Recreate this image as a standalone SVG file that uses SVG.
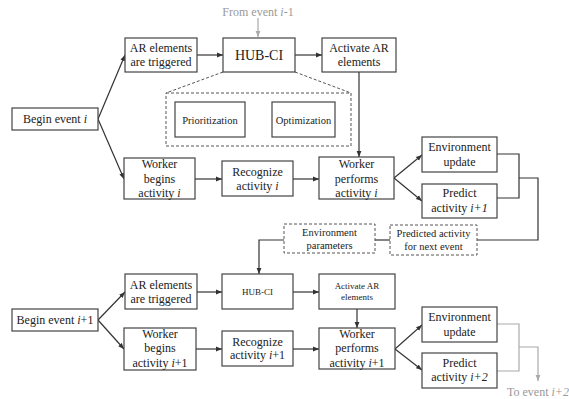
<svg xmlns="http://www.w3.org/2000/svg" width="569" height="399" viewBox="0 0 569 399">
<style>
.b{fill:#fff;stroke:#444;stroke-width:1.2}
.d{fill:#fff;stroke:#555;stroke-width:1;stroke-dasharray:3,2}
.t{font-family:"Liberation Serif","Times New Roman",serif;font-size:12px;fill:#222;text-anchor:middle}
.s{font-size:10.5px}
.x{font-size:9px}
.h{font-size:14px}
.g{fill:#999}
.c{fill:none;stroke:#333;stroke-width:1.2}
.cg{fill:none;stroke:#aaa;stroke-width:1.2}
.dl{fill:none;stroke:#555;stroke-width:1;stroke-dasharray:3,2}
</style>
<defs>
<marker id="a" viewBox="0 0 10 10" refX="10" refY="5" markerWidth="5" markerHeight="5" orient="auto"><path d="M0,1 L10,5 L0,9 z" fill="#333"/></marker>
<marker id="ag" viewBox="0 0 10 10" refX="10" refY="5" markerWidth="5" markerHeight="5" orient="auto"><path d="M0,1 L10,5 L0,9 z" fill="#aaa"/></marker>
</defs>
<g id="connectors">
<path class="cg" d="M258,18 V37" marker-end="url(#ag)"/>
<path class="c" d="M98,119 L125,55" marker-end="url(#a)"/>
<path class="c" d="M98,119 L124,179" marker-end="url(#a)"/>
<path class="c" d="M197,55 H223" marker-end="url(#a)"/>
<path class="c" d="M295,55 H322" marker-end="url(#a)"/>
<path class="dl" d="M223,72 L166,93 M295,72 L351,93"/>
<path class="c" d="M245,120 H272" marker-end="url(#a)"/>
<path class="c" d="M359,72 V157" marker-end="url(#a)"/>
<path class="c" d="M195,179 H222" marker-end="url(#a)"/>
<path class="c" d="M293,179 H319" marker-end="url(#a)"/>
<path class="c" d="M394,178 L422,155" marker-end="url(#a)"/>
<path class="c" d="M394,178 L422,201" marker-end="url(#a)"/>
<path class="c" d="M497,154 H519 V198 H497 M519,178 H538 V240 H477"/>
<path class="c" d="M390,240 H375"/>
<path class="c" d="M284,240 H259 V274" marker-end="url(#a)"/>
<path class="c" d="M98,320 L125,292" marker-end="url(#a)"/>
<path class="c" d="M98,320 L124,349" marker-end="url(#a)"/>
<path class="c" d="M197,292 H222" marker-end="url(#a)"/>
<path class="c" d="M293,292 H319" marker-end="url(#a)"/>
<path class="c" d="M357,309 V328" marker-end="url(#a)"/>
<path class="c" d="M196,349 H222" marker-end="url(#a)"/>
<path class="c" d="M293,349 H319" marker-end="url(#a)"/>
<path class="c" d="M395,349 L422,325" marker-end="url(#a)"/>
<path class="c" d="M395,349 L422,370" marker-end="url(#a)"/>
<path class="cg" d="M497,324 H519 V371 H497 M519,347 H538 V381" marker-end="url(#ag)"/>
</g>
<g id="from-event"><text class="t g" x="258" y="16">From event <tspan font-style="italic">i</tspan>-1</text></g>
<g id="begin-i"><rect class="b" x="12" y="108" width="86" height="22"/><text class="t" x="55" y="123">Begin event <tspan font-style="italic">i</tspan></text></g>
<g id="ar-i"><rect class="b" x="125" y="38" width="72" height="34"/><text class="t" x="161" y="52">AR elements</text><text class="t" x="161" y="66">are triggered</text></g>
<g id="hub-i"><rect class="b" x="223" y="38" width="72" height="34"/><text class="t h" x="259" y="60">HUB-CI</text></g>
<g id="activate-i"><rect class="b" x="322" y="38" width="74" height="34"/><text class="t" x="359" y="52">Activate AR</text><text class="t" x="359" y="66">elements</text></g>
<g id="hub-detail"><rect class="d" x="166" y="93" width="185" height="53"/></g>
<g id="prioritization"><rect class="b" x="175" y="102" width="70" height="35"/><text class="t s" x="210" y="124">Prioritization</text></g>
<g id="optimization"><rect class="b" x="272" y="102" width="63" height="35"/><text class="t s" x="303.500" y="124">Optimization</text></g>
<g id="worker-begins-i"><rect class="b" x="124" y="158" width="71" height="41"/><text class="t" x="159.500" y="168">Worker</text><text class="t" x="159.500" y="183">begins</text><text class="t" x="159.500" y="197">activity <tspan font-style="italic">i</tspan></text></g>
<g id="recognize-i"><rect class="b" x="222" y="161" width="71" height="35"/><text class="t" x="257.500" y="176">Recognize</text><text class="t" x="257.500" y="190">activity <tspan font-style="italic">i</tspan></text></g>
<g id="worker-performs-i"><rect class="b" x="319" y="157" width="75" height="42"/><text class="t" x="356.500" y="168">Worker</text><text class="t" x="356.500" y="183">performs</text><text class="t" x="356.500" y="197">activity <tspan font-style="italic">i</tspan></text></g>
<g id="env-update-i"><rect class="b" x="422" y="137" width="75" height="35"/><text class="t" x="459.500" y="151">Environment</text><text class="t" x="459.500" y="166">update</text></g>
<g id="predict-i1"><rect class="b" x="422" y="184" width="75" height="34"/><text class="t" x="459.500" y="197">Predict</text><text class="t" x="459.500" y="212">activity <tspan font-style="italic">i+1</tspan></text></g>
<g id="env-params"><rect class="d" x="284" y="224" width="91" height="29"/><text class="t s" x="329.500" y="236">Environment</text><text class="t s" x="329.500" y="249">parameters</text></g>
<g id="predicted-activity"><rect class="d" x="390" y="225" width="87" height="30"/><text class="t s" x="433.500" y="237">Predicted activity</text><text class="t s" x="433.500" y="250">for next event</text></g>
<g id="begin-i1"><rect class="b" x="12" y="309" width="86" height="22"/><text class="t" x="55" y="324">Begin event <tspan font-style="italic">i</tspan>+1</text></g>
<g id="ar-i1"><rect class="b" x="125" y="274" width="72" height="35"/><text class="t" x="161" y="289">AR elements</text><text class="t" x="161" y="303">are triggered</text></g>
<g id="hub-i1"><rect class="b" x="222" y="274" width="71" height="35"/><text class="t x" x="257.500" y="295">HUB-CI</text></g>
<g id="activate-i1"><rect class="b" x="319" y="274" width="76" height="35"/><text class="t x" x="357" y="289">Activate AR</text><text class="t x" x="357" y="300">elements</text></g>
<g id="worker-begins-i1"><rect class="b" x="124" y="328" width="72" height="42"/><text class="t" x="160" y="338">Worker</text><text class="t" x="160" y="352">begins</text><text class="t" x="160" y="367">activity <tspan font-style="italic">i</tspan>+1</text></g>
<g id="recognize-i1"><rect class="b" x="222" y="331" width="71" height="35"/><text class="t" x="257.500" y="346">Recognize</text><text class="t" x="257.500" y="359">activity <tspan font-style="italic">i</tspan>+1</text></g>
<g id="worker-performs-i1"><rect class="b" x="319" y="328" width="76" height="41"/><text class="t" x="357" y="338">Worker</text><text class="t" x="357" y="352">performs</text><text class="t" x="357" y="367">activity <tspan font-style="italic">i</tspan>+1</text></g>
<g id="env-update-i1"><rect class="b" x="422" y="307" width="75" height="35"/><text class="t" x="459.500" y="321">Environment</text><text class="t" x="459.500" y="336">update</text></g>
<g id="predict-i2"><rect class="b" x="422" y="353" width="75" height="35"/><text class="t" x="459.500" y="367">Predict</text><text class="t" x="459.500" y="381">activity <tspan font-style="italic">i+2</tspan></text></g>
<g id="to-event"><text class="t g" x="538" y="396">To event <tspan font-style="italic">i+2</tspan></text></g>
</svg>
